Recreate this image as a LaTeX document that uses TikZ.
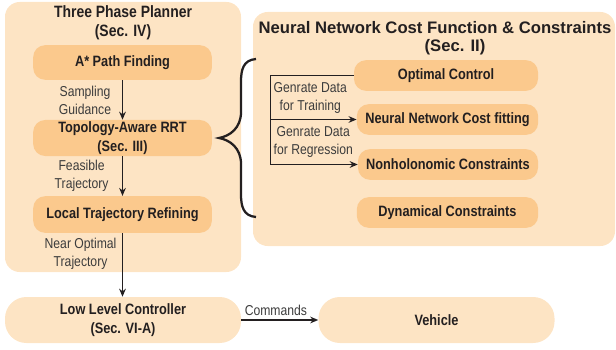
\documentclass[tikz,border=0pt]{standalone}
\usepackage{fontspec}
\setmainfont{Liberation Sans}[FakeStretch=0.85]
\newfontfamily\widefont{Liberation Sans}
\usepackage{xcolor}
\definecolor{panel}{RGB}{253,228,196}
\definecolor{block}{RGB}{251,201,141}
\definecolor{ink}{RGB}{35,31,32}
\definecolor{note}{RGB}{60,60,60}
\usetikzlibrary{positioning}
\usetikzlibrary{arrows.meta}
\usetikzlibrary{calc}

\begin{document}
\begin{tikzpicture}[x=0.75pt, y=-0.75pt,
    panelbox/.style={fill=panel, draw=none, rounded corners=11pt, inner sep=0pt},
    blockbox/.style={fill=block, draw=none, rounded corners=9pt, align=center, text=ink,
        font=\fontsize{11.25}{14}\selectfont\bfseries, inner sep=0pt},
    flow/.style={draw=ink, line width=1.1pt, -{Stealth[length=6pt,width=5pt]}},
    wire/.style={draw=ink, line width=1.1pt},
    remark/.style={align=center, text=note, font=\fontsize{10.75}{13.5}\selectfont, inner sep=0pt},
    heading/.style={align=center, text=ink, font=\fontsize{12.3}{14.5}\selectfont\bfseries, inner sep=0pt}]

    \useasboundingbox (0,0) rectangle (616,349);

    % the two panels
    \node[panelbox, minimum width=177pt, minimum height=202.5pt] (planner) at (123,137) {};
    \node[panelbox, minimum width=271.5pt, minimum height=175.5pt] (costfn) at (434,129) {};

    \node[heading] (plannertitle) at (123,22.5) {Three Phase Planner\\(Sec. IV)};
    \node[heading, font=\widefont\fontsize{12.5}{14.5}\selectfont\bfseries] (costtitle) at (435,28) {Neural Network Cost Function \& Constraints};
    \node[heading, font=\widefont\fontsize{12.5}{14.5}\selectfont\bfseries] (costsec) at (455,47) {(Sec. II)};

    % planner stages
    \node[blockbox, minimum width=134pt, minimum height=26pt] (astar) at (122.5,62.5) {A* Path Finding};
    \node[blockbox, minimum width=134pt, minimum height=27pt] (rrt) at (122.5,138) {Topology-Aware RRT\\(Sec. III)};
    \node[blockbox, minimum width=134pt, minimum height=27.5pt] (refine) at (122.5,214.5) {Local Trajectory Refining};

    \node[blockbox, fill=panel, rounded corners=16pt, minimum width=177pt, minimum height=34.5pt] (llc) at (123,320) {Low Level Controller\\(Sec. VI-A)};
    \node[blockbox, fill=panel, rounded corners=16pt, minimum width=177pt, minimum height=34.5pt] (vehicle) at (436.5,320) {Vehicle};

    % cost function blocks
    \node[blockbox, minimum width=138pt, minimum height=23pt] (optctrl) at (446,75.5) {Optimal Control};
    \node[blockbox, minimum width=136pt, minimum height=23pt] (nnfit) at (447.5,119.5) {Neural Network Cost fitting};
    \node[blockbox, minimum width=135pt, minimum height=23pt] (nonholo) at (448,164.5) {Nonholonomic Constraints};
    \node[blockbox, minimum width=136pt, minimum height=23pt] (dyn) at (447.5,212.5) {Dynamical Constraints};

    \draw[flow] (astar) -- node[remark, left=8pt] {Sampling\\Guidance} (rrt);
    \draw[flow] (rrt) -- node[remark, left=10pt] {Feasible\\Trajectory} (refine);
    \draw[flow] (refine.south) -- node[remark, left=4pt, pos=0.33] {Near Optimal\\Trajectory} (refine.south |- llc.north);
    \draw[flow] (llc) -- node[remark, above=3pt, pos=0.45] {Commands} (vehicle);

    \draw[wire] (optctrl.west) -- ++(-83,0) coordinate (bus);
    \draw[flow] (bus) |- (nonholo.west);
    \draw[flow] (bus |- nnfit.west) -- (nnfit.west);
    \path (bus) -- (bus |- nnfit.west) node[remark, midway, right=2pt] {Genrate Data\\for Training};
    \path (bus |- nnfit.west) -- (bus |- nonholo.west) node[remark, midway, right=2pt] {Genrate Data\\for Regression};

    % brace
    \draw[draw=ink, line width=1.7pt] (256,59) .. controls (243,60) and (241,70) .. (241,82) -- (241,112)
        .. controls (241,128) and (230,136) .. (219,138) .. controls (230,140) and (241,148) .. (241,164)
        -- (241,194) .. controls (241,206) and (243,216) .. (256,217);

\end{tikzpicture}
\end{document}
